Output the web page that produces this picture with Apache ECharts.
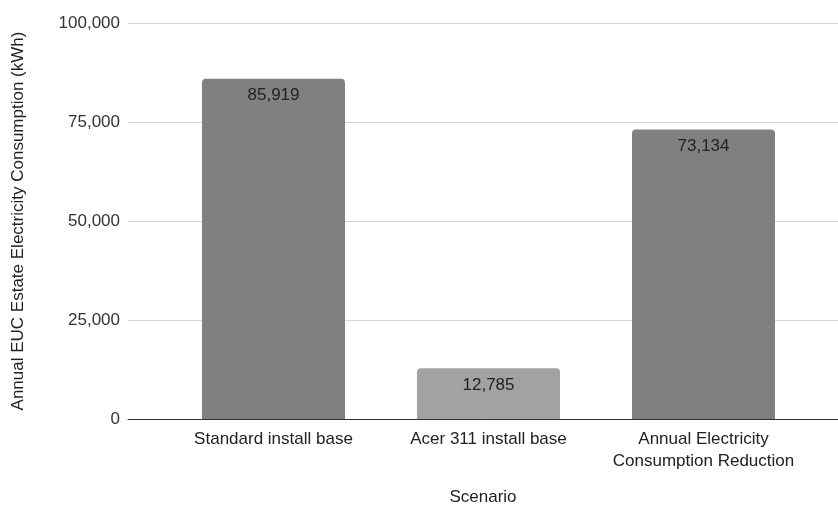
<!DOCTYPE html>
<html><head><meta charset="utf-8">
<script src="https://cdn.jsdelivr.net/npm/echarts@6/dist/echarts.min.js"></script>
<style>html,body{margin:0;padding:0;background:#fff}#c{width:838px;height:506px}</style>
</head><body><div id="c"></div>
<script>
const categories = ['Standard install base', 'Acer 311 install base', 'Annual Electricity\nConsumption Reduction'];
const values = [85919, 12785, 73134];
const yTicks = [0, 25000, 50000, 75000, 100000];
const barColors = ['#808080', '#a2a2a2', '#808080'];

const fmt = v => v.toLocaleString('en-US');
const chart = echarts.init(document.getElementById('c'));
const font = '"Liberation Sans", Arial, sans-serif';
chart.setOption({
  animation: false,
  grid: [
    {left: 128, right: 0, top: 23, bottom: 87, containLabel: false, outerBoundsMode: 'none'},
    {left: 166, width: 645, top: 23, bottom: 87, containLabel: false, outerBoundsMode: 'none'}
  ],
  xAxis: [
    {gridIndex: 0, type: 'value', min: 0, max: 1, axisLine: {show: true, lineStyle: {color: '#333', width: 1}},
     axisLabel: {show: false}, axisTick: {show: false}, splitLine: {show: false},
     name: 'Scenario', nameLocation: 'middle', nameGap: 70,
     nameTextStyle: {fontFamily: font, fontSize: 17, color: '#222'}},
    {gridIndex: 1, type: 'category', data: categories, axisLine: {show: false}, axisTick: {show: false},
     axisLabel: {interval: 0, hideOverlap: false, fontFamily: font, fontSize: 17, color: '#222', margin: 9, lineHeight: 22}}
  ],
  yAxis: [
    {gridIndex: 0, type: 'value', min: yTicks[0], max: yTicks[yTicks.length - 1], interval: 25000,
     axisLine: {show: false}, axisTick: {show: false},
     axisLabel: {fontFamily: font, fontSize: 17, color: '#333', margin: 8, formatter: fmt},
     splitLine: {lineStyle: {color: '#d6d6d6', width: 1}},
     name: 'Annual EUC Estate Electricity Consumption (kWh)', nameLocation: 'middle', nameGap: 101, nameRotate: 90,
     nameTextStyle: {fontFamily: font, fontSize: 17, color: '#222'}},
    {gridIndex: 1, type: 'value', min: yTicks[0], max: yTicks[yTicks.length - 1], show: false}
  ],
  series: [{
    type: 'bar', xAxisIndex: 1, yAxisIndex: 1, barWidth: 143,
    data: values.map((v, i) => ({value: v, itemStyle: {color: barColors[i]}})),
    itemStyle: {borderRadius: [4, 4, 0, 0]},
    label: {show: true, position: 'insideTop', distance: 8, formatter: p => fmt(p.value),
      fontFamily: font, fontSize: 17, color: '#222'}
  }]
});
</script></body></html>
